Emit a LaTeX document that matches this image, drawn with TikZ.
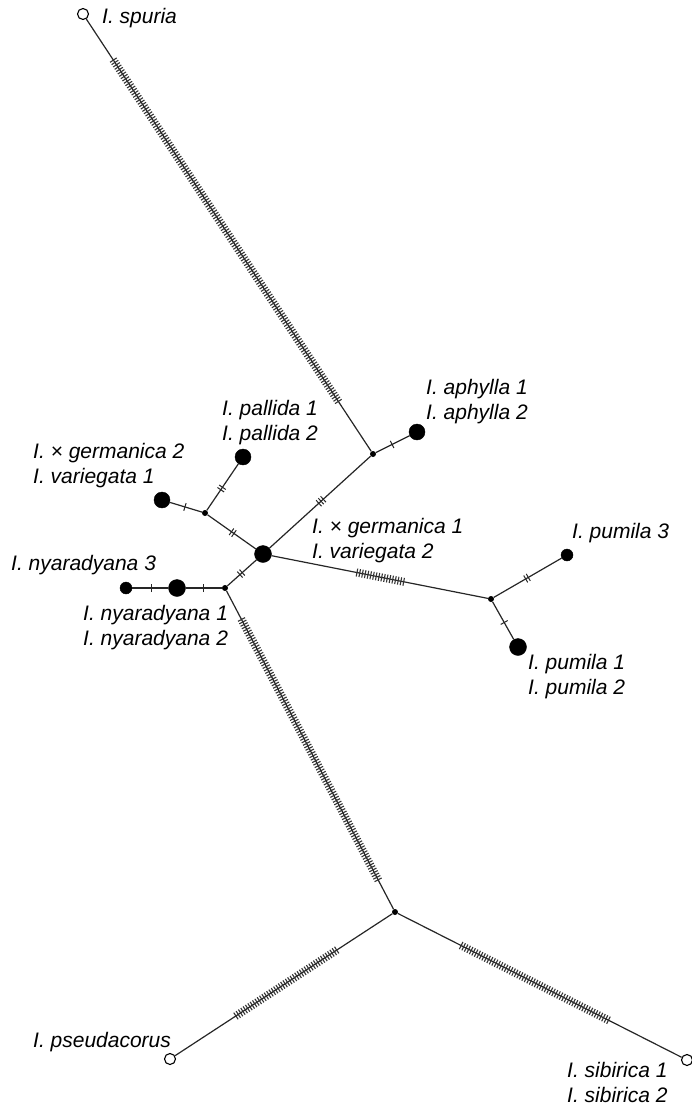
\documentclass[tikz,border=0pt]{standalone}
\usepackage{fontspec}
\setmainfont{Liberation Sans}
\usetikzlibrary{decorations.markings}
\tikzset{
	hap/.style={circle,fill=black,draw=black,inner sep=0pt,minimum size=#1},
	med/.style={circle,fill=black,inner sep=0pt,minimum size=6pt},
	open/.style={circle,fill=white,draw=black,line width=1.1pt,inner sep=0pt,minimum size=11pt},
	lab/.style={anchor=base west,inner sep=0pt,align=left,font=\fontsize{21}{25}\selectfont\itshape},
	link/.style={draw=black!85,line width=1.2pt},
	% one mark per mutation
	mut/.style 2 args={postaction={decorate,decoration={markings,mark=at position #1 with {\foreach \k in {1,...,#2}{\draw[line width=1pt] ({(\k-(#2+1)/2)*3},-4) -- ++(0,8);}}}}},
	hatch/.style 2 args={postaction={decorate,decoration={markings,mark=between positions #1 and #2 step 2.8pt with {\draw[line width=1.1pt,black!80] (0,-4) -- (0,4);}}}}
}
\begin{document}
\begin{tikzpicture}[x=1pt,y=-1pt]
			\useasboundingbox (0,0) rectangle (692,1109);
			% haplotypes
			\node[open] (spu) at (83,14) {};
			\node[med] (apx) at (373,454) {};
			\node[hap=16pt] (aph) at (417,432) {};
			\node[hap=17pt] (ctr) at (263,554) {};
			\node[med] (lm) at (205,513) {};
			\node[hap=16pt] (pal) at (243,457) {};
			\node[hap=16pt] (ger) at (162,500) {};
			\node[med] (nm) at (225,588) {};
			\node[hap=17pt] (ny) at (177,588) {};
			\node[hap=12pt] (ny3) at (126,588) {};
			\node[med] (pm) at (491,599) {};
			\node[hap=12pt] (pu3) at (567,555) {};
			\node[hap=17pt] (pu) at (518,647) {};
			\node[med] (bot) at (395,912) {};
			\node[open] (pse) at (170,1059) {};
			\node[open] (sib) at (687,1060) {};
			% labels (base = last line)
			\node[lab] (l-spu) at (102,23) {I. spuria};
			\node[lab] (l-aph) at (426,419) {I. aphylla 1\\I. aphylla 2};
			\node[lab] (l-pal) at (222,440) {I. pallida 1\\I. pallida 2};
			\node[lab] (l-ger) at (33,483) {I. × germanica 2\\I. variegata 1};
			\node[lab] (l-ctr) at (312,558) {I. × germanica 1\\I. variegata 2};
			\node[lab] (l-pu3) at (572,538) {I. pumila 3};
			\node[lab] (l-ny3) at (11,570) {I. nyaradyana 3};
			\node[lab] (l-ny) at (83,645) {I. nyaradyana 1\\I. nyaradyana 2};
			\node[lab] (l-pu) at (528,694) {I. pumila 1\\I. pumila 2};
			\node[lab] (l-pse) at (33,1047) {I. pseudacorus};
			\node[lab] (l-sib) at (567,1102) {I. sibirica 1\\I. sibirica 2};
			% links
			\path[link]
			(spu) edge [hatch={0.095}{0.885}] (apx)
			(apx) edge [mut={0.48}{1}] (aph)
			(apx) edge [mut={0.49}{3}] (ctr)
			(ctr) edge [mut={0.48}{2}] (lm)
			(lm) edge [mut={0.47}{2}] (pal)
			(lm) edge [mut={0.53}{1}] (ger)
			(ctr) edge [mut={0.53}{2}] (nm)
			(nm) edge [mut={0.5}{1}] (ny)
			(ny) edge [mut={0.47}{1}] (ny3)
			(ctr) edge [hatch={0.395}{0.618}] (pm)
			(pm) edge [mut={0.49}{2}] (pu3)
			(pm) edge [mut={0.55}{1}] (pu)
			(nm) edge [hatch={0.09}{0.913}] (bot)
			(bot) edge [hatch={0.256}{0.73}] (pse)
			(bot) edge [hatch={0.223}{0.743}] (sib);
		\end{tikzpicture}
\end{document}
